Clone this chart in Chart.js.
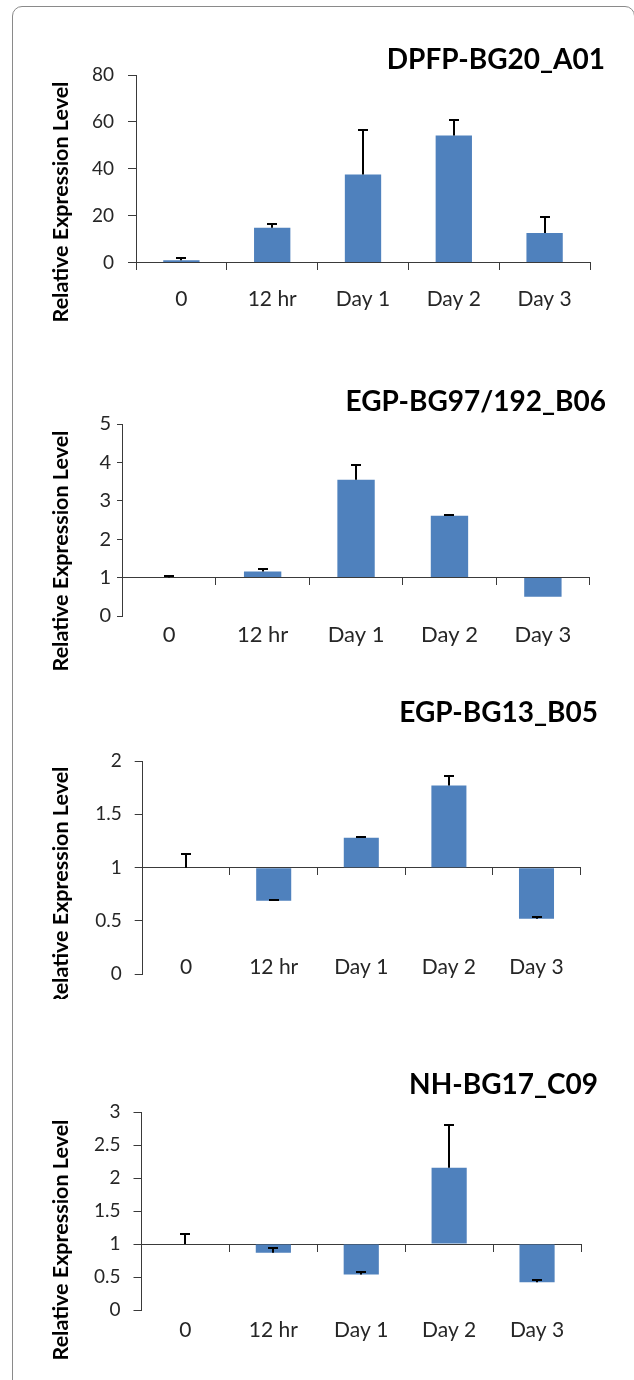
<!DOCTYPE html>
<html>
<head>
<meta charset="utf-8">
<script src="https://cdn.jsdelivr.net/npm/chart.js@4.4.1/dist/chart.umd.min.js"></script>
<style>
  html, body { margin: 0; padding: 0; background: #fff; }
  body { width: 634px; height: 1380px; position: relative; overflow: hidden; }
  #frame { position: absolute; left: 12px; top: 6px; width: 621px; height: 1400px;
           border: 1px solid #8a8a8a; border-radius: 10px; }
  canvas { position: absolute; left: 0; }
</style>
</head>
<body>
<div id="frame"></div>
<canvas id="c1"></canvas>
<canvas id="c2"></canvas>
<canvas id="c3"></canvas>
<canvas id="c4"></canvas>
<script>
// time points on the x axis
var timepoints = ['0', '12 hr', 'Day 1', 'Day 2', 'Day 3'];
var geneNames = ['DPFP-BG20_A01', 'EGP-BG97/192_B06', 'EGP-BG13_B05', 'NH-BG17_C09'];
var yAxisLabel = 'Relative Expression Level';

// mean relative expression and + error per gene
var dpfpMean  = [1, 14.8, 37.6, 54.2, 12.6];
var dpfpErr   = [1, 1.5, 18.9, 6.6, 7.0];
var egp97Mean = [1.0, 1.16, 3.55, 2.61, 0.5];
var egp97Err  = [0.03, 0.07, 0.38, 0.03, 0];
var egp13Mean = [1.0, 0.69, 1.28, 1.77, 0.52];
var egp13Err  = [0.13, 0.01, 0.01, 0.09, 0.02];
var nhMean    = [1.0, 0.87, 0.54, 2.16, 0.42];
var nhErr     = [0.16, 0.07, 0.03, 0.64, 0.03];

// y axis range / step and the value where the category axis crosses
var yMax = [80, 5, 2, 3];
var yStep = [20, 1, 0.5, 0.5];
var baseline = [0, 1, 1, 1];

var means = [dpfpMean, egp97Mean, egp13Mean, nhMean];
var errs = [dpfpErr, egp97Err, egp13Err, nhErr];

// page layout of each panel (px)
var panels = [
  {canvas: [0, 340],    area: [136, 75, 590, 262.5],      titleRight: 605, titleY: 60,   labelY: 299,  yTitleY: 202,  tickLen: 8,   tickPad: 14, fs: 19},
  {canvas: [340, 680],  area: [122.5, 424, 589.6, 616],   titleRight: 606, titleY: 402,  labelY: 635,  yTitleY: 551,  tickLen: 5.5, tickPad: 6,  fs: 20},
  {canvas: [680, 999],  area: [142.3, 761, 580.3, 974.3], titleRight: 598, titleY: 713,  labelY: 967,  yTitleY: 887,  tickLen: 7.6, tickPad: 13, fs: 19},
  {canvas: [999, 1380], area: [141.5, 1112.3, 581, 1310], titleRight: 598, titleY: 1085, labelY: 1330, yTitleY: 1240, tickLen: 8,   tickPad: 13, fs: 19}
];

var FONT = 'Lato, "Open Sans", sans-serif';
var axisColor = '#3a3a3a';
var textColor = '#262626';

var errorBars = {
  id: 'errorBars',
  afterDatasetsDraw: function(chart) {
    var ctx = chart.ctx, y = chart.scales.y;
    chart.data.datasets.forEach(function(ds, di) {
      var meta = chart.getDatasetMeta(di);
      meta.data.forEach(function(bar, j) {
        var e = ds.errors[j];
        if (!e) return;
        var y0 = y.getPixelForValue(ds.data[j]);
        var y1 = Math.round(y.getPixelForValue(ds.data[j] + e));
        var x = Math.round(bar.x);
        ctx.save();
        ctx.strokeStyle = '#000';
        ctx.lineWidth = 2;
        ctx.beginPath();
        ctx.moveTo(x, y0);
        ctx.lineTo(x, y1);
        ctx.moveTo(x - 5, y1);
        ctx.lineTo(x + 5, y1);
        ctx.stroke();
        ctx.restore();
      });
    });
  }
};

// gene title (top right) and rotated y axis title
var panelText = {
  id: 'panelText',
  afterDraw: function(chart, args, opts) {
    var ctx = chart.ctx;
    ctx.save();
    ctx.fillStyle = '#000';
    ctx.font = 'bold 28px ' + FONT;
    ctx.textAlign = 'right';
    ctx.textBaseline = 'middle';
    ctx.fillText(opts.title, opts.titleRight, opts.titleY);
    ctx.translate(61, opts.yTitleY);
    ctx.rotate(-Math.PI / 2);
    ctx.font = 'bold 21.5px ' + FONT;
    ctx.textAlign = 'center';
    ctx.fillText(yAxisLabel, 0, 0);
    ctx.restore();
  }
};

function makeChart(i) {
  var p = panels[i];
  var top = p.canvas[0], h = p.canvas[1] - p.canvas[0];
  var cv = document.getElementById('c' + (i + 1));
  cv.width = 634;
  cv.height = h;
  cv.style.top = top + 'px';
  var yW = 60;
  var a = p.area;
  var labelSize = p.fs + 2;
  var labelPad = p.labelY - labelSize * 0.6 - a[3];

  new Chart(cv, {
    type: 'bar',
    data: {
      labels: timepoints,
      datasets: [{
        data: means[i],
        errors: errs[i],
        base: baseline[i],
        backgroundColor: '#4F81BD',
        borderWidth: 0,
        barPercentage: 0.4,
        categoryPercentage: 1,
        xAxisID: 'x',
        yAxisID: 'y'
      }]
    },
    options: {
      responsive: false,
      animation: false,
      devicePixelRatio: 1,
      layout: {
        padding: {
          left: a[0] - yW,
          right: 634 - a[2],
          top: a[1] - top,
          bottom: h - (a[3] - top)
        }
      },
      plugins: {
        legend: { display: false },
        tooltip: { enabled: false },
        panelText: {
          title: geneNames[i],
          titleRight: p.titleRight,
          titleY: p.titleY - top,
          yTitleY: p.yTitleY - top
        }
      },
      scales: {
        // axis line where the bars start, tick marks between categories
        x: {
          type: 'category',
          axis: 'x',
          position: { y: baseline[i] },
          z: 1,
          offset: true,
          grid: { display: true, drawOnChartArea: false, drawTicks: true, tickLength: 7, offset: true, color: axisColor },
          border: { display: true, color: axisColor, width: 1 },
          ticks: { display: false }
        },
        // category labels, hung from the bottom of the value range
        xl: {
          type: 'category',
          axis: 'x',
          position: { y: 0 },
          offset: true,
          grid: { display: false, drawTicks: false, tickLength: 0 },
          border: { display: false },
          ticks: {
            padding: labelPad,
            color: textColor,
            maxRotation: 0,
            autoSkip: false,
            font: { family: FONT, size: labelSize, lineHeight: 1.2 }
          }
        },
        y: {
          min: 0,
          max: yMax[i],
          grid: { display: true, drawOnChartArea: false, drawTicks: true, tickLength: p.tickLen, color: axisColor },
          border: { display: true, color: axisColor, width: 1 },
          ticks: {
            stepSize: yStep[i],
            padding: p.tickPad,
            color: textColor,
            font: { family: FONT, size: p.fs },
            callback: function(v) { return String(+v.toFixed(2)); }
          },
          afterFit: function(s) { s.width = yW; }
        }
      }
    },
    plugins: [errorBars, panelText]
  });
}

for (var i = 0; i < panels.length; i++) makeChart(i);
</script>
</body>
</html>
